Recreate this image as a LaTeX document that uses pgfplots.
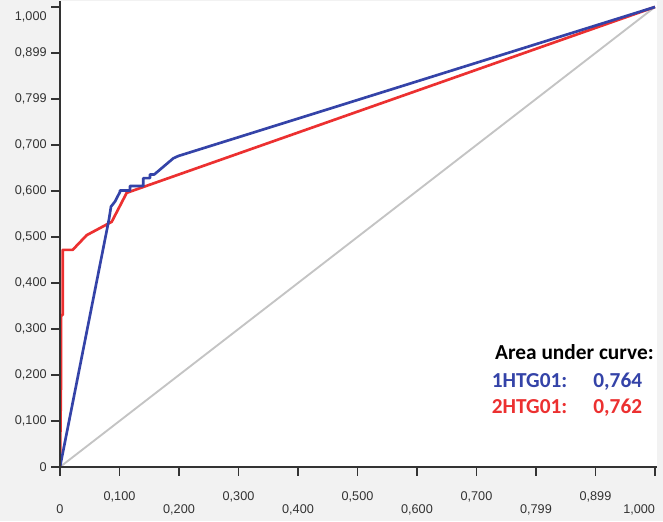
\documentclass[border=0pt]{standalone}
\usepackage{pgfplots}
\pgfplotsset{compat=1.18}
\usepackage{fontspec}
\setmainfont{Carlito}
\newfontfamily\tickfont{Liberation Sans}

\definecolor{bg}{HTML}{F2F2F2}
\definecolor{rocblue}{HTML}{3443A8}
\definecolor{rocred}{HTML}{EC3030}
\definecolor{diag}{HTML}{C4C4C4}
\definecolor{axisgray}{HTML}{333333}

\begin{document}
\begin{tikzpicture}
\fill[bg] (0,0) rectangle (497.25pt,390.75pt);
\begin{axis}[
    at={(45pt,40.5pt)}, anchor=south west,
    scale only axis,
    width=447.75pt, height=349.5pt,
    xmin=0, xmax=1.0034, ymin=0, ymax=1.013,
    axis lines*=left,
    axis on top,
    axis line style={axisgray, line width=0.9pt},
    axis background/.style={fill=white},
    tick align=outside,
    major tick length=6.5pt,
    tick style={axisgray, line width=0.8pt},
    tick label style={font=\tickfont\fontsize{9.5}{10}\selectfont, text=axisgray},
    xtick={0,0.2,0.4,0.6,0.8,1},
    xticklabels={0,{0,200},{0,400},{0,600},{0,799},{\llap{1,000}}},
    xticklabel style={yshift=-18.2pt},
    extra x ticks={0.1,0.3,0.5,0.7,0.9},
    extra x tick labels={{0,100},{0,300},{0,500},{0,700},{0,899}},
    extra x tick style={xticklabel style={yshift=9.7pt}},
    ytick={0,0.1,0.2,0.3,0.4,0.5,0.6,0.7,0.8,0.9},
    yticklabels={0,{0,100},{0,200},{0,300},{0,400},{0,500},{0,600},{0,700},{0,799},{0,899}},
    extra y ticks={1},
    extra y tick labels={1{,}000},
    extra y tick style={yticklabel style={yshift=-7.5pt}},
    line join=round,
]

% chance line
\addplot[diag, line width=1.4pt] coordinates {(0,0) (1,1)};

% 2HTG01
\addplot[rocred, line width=2pt] coordinates {
    (0,0) (0.0017,0.185) (0.0017,0.330) (0.0045,0.330) (0.0045,0.472)
    (0.0213,0.472) (0.0449,0.504) (0.0869,0.533) (0.1121,0.596) (1,1)
};

% 1HTG01
\addplot[rocblue, line width=2pt] coordinates {
    (0,0) (0.0824,0.539) (0.0857,0.566) (0.0924,0.577) (0.1008,0.598)
    (0.1008,0.601) (0.1176,0.601) (0.1176,0.611) (0.1400,0.611)
    (0.1400,0.628) (0.1513,0.628) (0.1513,0.636) (0.1585,0.636)
    (0.1904,0.671) (0.1988,0.676) (1,1)
};

\node[anchor=base west, inner sep=0, font=\bfseries\fontsize{16}{19}\selectfont]
    at (axis cs:0.731,0.234) {Area under curve:};
\node[anchor=base west, inner sep=0, text=rocblue, font=\bfseries\fontsize{16}{19}\selectfont]
    at (axis cs:0.7255,0.172) {1HTG01:};
\node[anchor=base west, inner sep=0, text=rocblue, font=\bfseries\fontsize{16}{19}\selectfont]
    at (axis cs:0.896,0.172) {0,764};
\node[anchor=base west, inner sep=0, text=rocred, font=\bfseries\fontsize{16}{19}\selectfont]
    at (axis cs:0.7255,0.1167) {2HTG01:};
\node[anchor=base west, inner sep=0, text=rocred, font=\bfseries\fontsize{16}{19}\selectfont]
    at (axis cs:0.896,0.1167) {0,762};
\end{axis}
\pgfresetboundingbox
\path[use as bounding box] (0,0) rectangle (497.25pt,390.75pt);
\end{tikzpicture}
\end{document}
